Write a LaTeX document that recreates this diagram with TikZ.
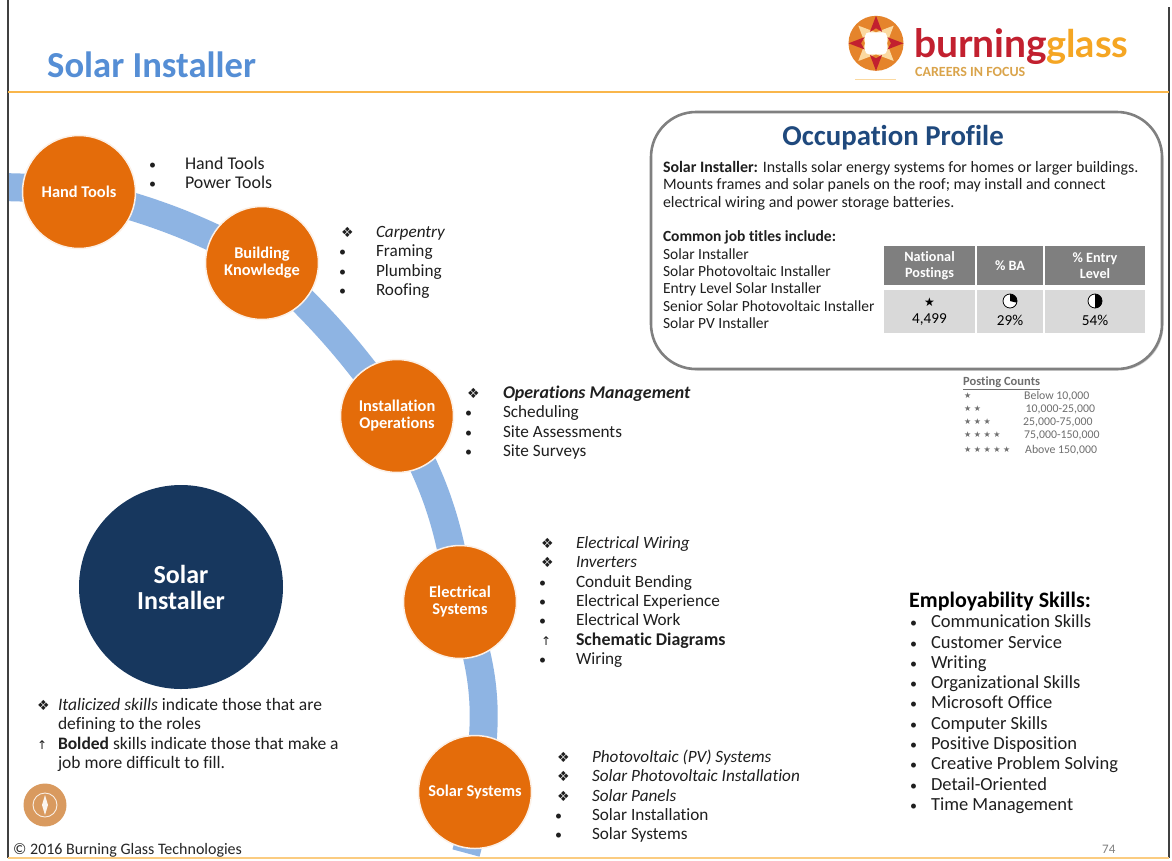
\documentclass[tikz,border=0pt]{standalone}
\usepackage{fontspec}
\setmainfont{Carlito}[Ligatures=NoCommon]
\newfontfamily\symf{DejaVu Sans}
\newfontfamily\logof{Lato}
\usepackage{array}
\definecolor{bandblue}{HTML}{8EB4E3}
\definecolor{burnt}{HTML}{E46C0A}
\definecolor{navy}{HTML}{17375E}
\definecolor{titleblue}{HTML}{558ED5}
\definecolor{profileblue}{HTML}{1F497D}
\definecolor{rule}{HTML}{F9B64B}
\definecolor{headgray}{HTML}{7F7F7F}
\definecolor{cellgray}{HTML}{D9D9D9}
\definecolor{logored}{HTML}{C2202F}
\definecolor{logoorange}{HTML}{F5A623}
\definecolor{logoburnt}{HTML}{E5842B}
\definecolor{logocream}{HTML}{FBD9A0}
\definecolor{compass}{HTML}{D99A5F}
\definecolor{softgray}{HTML}{6E6E6E}
\newcommand{\dia}{{\symf\fontsize{14}{12}\selectfont ❖}}
\newcommand{\bul}{\hspace*{-2pt}{\fontsize{14}{12}\selectfont •}}
\newcommand{\upa}{{\symf\fontsize{12}{11}\selectfont ↑}}
\newcommand{\lst}[2]{\fontsize{17.2}{19.35}\selectfont\begin{tabular}{@{}p{#1}@{}l@{}}#2\end{tabular}}
\newcommand{\lstb}[2]{\fontsize{17.9}{19.35}\selectfont\begin{tabular}{@{}p{#1}@{}l@{}}#2\end{tabular}}
\newcommand{\lstc}[2]{\fontsize{17.5}{19.35}\selectfont\begin{tabular}{@{}p{#1}@{}l@{}}#2\end{tabular}}
\newcommand{\lsta}[2]{\fontsize{18.5}{20.3}\selectfont\begin{tabular}{@{}p{#1}@{}l@{}}#2\end{tabular}}
\newcommand{\bigbold}[1]{{\fontsize{17.9}{19.35}\selectfont\bfseries #1}}
\tikzset{
  x=1pt,y=-1pt,
  band/.style={draw=bandblue,line width=28pt},
  skillcircle/.style={circle,fill=burnt,draw=white!90!burnt,line width=1.5pt,minimum size=113pt,inner sep=0pt,text=white,align=center,font=\fontsize{16.4}{17}\selectfont\bfseries},
  txt/.style={anchor=north west,inner sep=0pt,outer sep=0pt,align=left,text=black!88},
  headcell/.style={fill=headgray,text=white,inner sep=0pt,align=center,font=\fontsize{14.2}{16.5}\selectfont\bfseries},
  bodycell/.style={fill=cellgray,inner sep=0pt},
  cnt/.style={anchor=west,inner sep=0pt,text=softgray,font=\fontsize{11.8}{12}\selectfont},
  stars/.style={anchor=west,inner sep=0pt,text=softgray,font=\symf\fontsize{8}{9}\selectfont},
}
\begin{document}
\begin{tikzpicture}
\useasboundingbox (0,0) rectangle (1172,860);
\fill[white] (0,0) rectangle (1172,860);
\coordinate (cHand) at (79,192);
\coordinate (cBuild) at (262,262);
\coordinate (cInst) at (397,415);
\coordinate (cElec) at (460,601);
\coordinate (cSolar) at (475,792);
\coordinate (bandin) at (-10,187);
\coordinate (bandout) at (466,853);
\begin{scope}
\clip (8,0) rectangle (1169,860);
\draw[band] (bandin) to[bend left=3] (cHand);
\draw[band] (cHand) to[bend left=7] (cBuild);
\draw[band] (cBuild) to[bend left=6] (cInst);
\draw[band] (cInst) to[bend left=11] (cElec);
\draw[band] (cElec) to[bend left=16] (cSolar);
\draw[band] (cSolar) to[bend left=7] (bandout);
\end{scope}
% frame
\coordinate (fl0) at (8,0); \coordinate (fl1) at (8,858);
\coordinate (fr0) at (1169,7); \coordinate (fr1) at (1169,858);
\draw[black!75,line width=1.3pt] (fl0) -- (fl1);
\draw[black!75,line width=1.3pt] (fr0) -- (fr1);
\coordinate (rl) at (8,92); \coordinate (rr) at (1169,92);
\draw[rule,line width=2pt] (rl) -- (rr);
\coordinate (bl) at (8,858); \coordinate (br) at (1169,858);
\draw[rule!70,line width=1.5pt] (bl) -- (br);
% title
\node[anchor=west,inner sep=0pt,text=titleblue,font=\fontsize{36.6}{38}\selectfont\bfseries] (title) at (47,65) {Solar Installer};
% logo
\begin{scope}[shift={(876,43.3)}]
\fill[logoburnt] (0,0) circle (27.5);
\foreach \a in {45,135,225,315}{
  \fill[logocream] (\a:25) -- (\a-45:11) -- (\a:9) -- (\a+45:11) -- cycle;
}
\foreach \a in {0,90,180,270}{
  \fill[logored] (\a:27.5) -- (\a-28:13) -- (\a:15) -- (\a+28:13) -- cycle;
}
\fill[white,rounded corners=4pt] (-11,-11) rectangle (11,11);
\end{scope}
\node[anchor=base west,inner sep=0pt,text=logored,font=\logof\fontsize{39}{44}\selectfont\bfseries] (burning) at (914,57.5) {burning};
\node[anchor=base west,inner sep=0pt,text=logoorange,font=\logof\fontsize{38}{44}\selectfont\bfseries] (glass) at (1046,57.5) {glass};
\node[anchor=base west,inner sep=0pt,text=logoorange!85!black!80!white,font=\fontsize{14}{14}\selectfont\bfseries] (careers) at (915,76) {CAREERS IN FOCUS};
\coordinate (ul0) at (855,79); \coordinate (ul1) at (896,79);
\draw[logocream,line width=1pt] (ul0) -- (ul1);
% skill circles
\node[skillcircle] (hand) at (cHand) {\raisebox{-1pt}{Hand Tools}};
\node[skillcircle] (build) at (262,263) {Building\\Knowledge};
\node[skillcircle] (inst) at (397,416) {Installation\\Operations};
\node[skillcircle] (elec) at (460,602) {Electrical\\Systems};
\node[skillcircle] (solar) at (cSolar) {\raisebox{-1pt}{Solar Systems}};
\node[circle,fill=navy,minimum size=204pt,inner sep=0pt,text=white,align=center,font=\fontsize{26}{26}\selectfont\bfseries] (big) at (181,587) {Solar\\Installer};
% lists
\node[txt] (l1) at (151,155.5) {\lstb{34pt}{\bul & Hand Tools\\ \bul & Power Tools}};
\node[txt] (l2) at (341,224) {\lst{35pt}{\dia & \textit{Carpentry}\\ \bul & Framing\\ \bul & Plumbing\\ \bul & Roofing}};
\node[txt] (l3) at (467,385) {\lst{36pt}{\dia & \bigbold{\textit{Operations Management}}\\ \bul & Scheduling\\ \bul & Site Assessments\\ \bul & Site Surveys}};
\node[txt] (l4) at (541,535) {\lst{35pt}{\dia & \textit{Electrical Wiring}\\ \dia & \textit{Inverters}\\ \bul & Conduit Bending\\ \bul & Electrical Experience\\ \bul & Electrical Work\\ \upa & \bigbold{Schematic Diagrams}\\ \bul & Wiring}};
\node[txt] (l5) at (557,749) {\lst{35pt}{\dia & \textit{Photovoltaic (PV) Systems}\\ \dia & \textit{Solar Photovoltaic Installation}\\ \dia & \textit{Solar Panels}\\ \bul & Solar Installation\\ \bul & Solar Systems}};
% note
\node[txt] (note) at (37,697) {\lstc{21pt}{\dia & \textit{Italicized skills} indicate those that are\\ & defining to the roles\\ \upa & \textbf{Bolded} skills indicate those that make a\\ & job more difficult to fill.}};
% compass
\node[circle,fill=compass,minimum size=43pt,inner sep=0pt] (comp) at (45,805) {};
\draw[white!85!compass,line width=.9pt] (comp.center) circle (12);
\fill[white!90!compass] (45,795) -- (48,805) -- (45,815) -- (42,805) -- cycle;
% footer
\node[anchor=west,inner sep=0pt,text=black!85,font=\fontsize{16}{16}\selectfont] (copy) at (13,850) {© 2016 Burning Glass Technologies};
\node[anchor=west,inner sep=0pt,text=black!50,font=\fontsize{13}{14}\selectfont] (page) at (1102,849) {74};
% profile
\fill[black!18,rounded corners=45pt] (652.5,113.5) rectangle (1163.5,370.5);
\draw[fill=white,draw=black!50,line width=2.6pt,rounded corners=45pt] (651,112) rectangle (1162,369);
\node[inner sep=0pt,text=profileblue,font=\fontsize{28.8}{29}\selectfont\bfseries] (ptitle) at (893,137.5) {Occupation Profile};
\node[txt,font=\fontsize{15.9}{17.5}\selectfont] (pdesc) at (663,161) {\textbf{Solar Installer:} Installs solar energy systems for homes or larger buildings.\\Mounts frames and solar panels on the roof; may install and connect\\electrical wiring and power storage batteries.};
\node[txt,font=\fontsize{15.5}{17.3}\selectfont] (ptitles) at (663,231) {\textbf{Common job titles include:}\\Solar Installer\\Solar Photovoltaic Installer\\Entry Level Solar Installer\\Senior Solar Photovoltaic Installer\\Solar PV Installer};
% table
\node[headcell,minimum width=91pt,minimum height=39pt] (h1) at (929.5,265.5) {National\\Postings};
\node[headcell,minimum width=66pt,minimum height=39pt] (h2) at (1010,265.5) {\% BA};
\node[headcell,minimum width=100pt,minimum height=39pt] (h3) at (1095,265.5) {\% Entry\\Level};
\node[bodycell,minimum width=91pt,minimum height=43pt] (b1) at (929.5,311.5) {};
\node[bodycell,minimum width=66pt,minimum height=43pt] (b2) at (1010,311.5) {};
\node[bodycell,minimum width=100pt,minimum height=43pt] (b3) at (1095,311.5) {};
\node[inner sep=0pt,font=\symf\fontsize{12}{12}\selectfont] (s1) at (929.5,302) {★};
\node[inner sep=0pt,font=\fontsize{15.2}{16}\selectfont] (v1) at (929.5,320) {4,499};
\node[inner sep=0pt,font=\fontsize{15.2}{16}\selectfont] (v2) at (1010,320) {29\%};
\node[inner sep=0pt,font=\fontsize{15.2}{16}\selectfont] (v3) at (1095,320) {54\%};
\draw[black,fill=white,line width=.8pt] (1010,301) circle (7);
\fill[black] (1010,301) -- (1010,294) arc[start angle=-90,end angle=14,radius=7] -- cycle;
\draw[black,fill=white,line width=.8pt] (1095,301) circle (7);
\fill[black] (1095,294) arc[start angle=-90,end angle=90,radius=7] -- cycle;
% posting counts
\node[anchor=west,inner sep=0pt,text=softgray,font=\fontsize{12.5}{12}\selectfont\bfseries] (pc) at (963,383) {\underline{Posting Counts}};
\node[stars] (s-a) at (964,396) {★};
\node[stars] (s-b) at (964,409) {★ ★};
\node[stars] (s-c) at (964,422) {★ ★ ★};
\node[stars] (s-d) at (964,435) {★ ★ ★ ★};
\node[stars] (s-e) at (964,450) {★ ★ ★ ★ ★};
\node[cnt] (c-a) at (1024,396.5) {Below 10,000};
\node[cnt] (c-b) at (1025.5,409.5) {10,000-25,000};
\node[cnt] (c-c) at (1023,422.5) {25,000-75,000};
\node[cnt] (c-d) at (1024,435.5) {75,000-150,000};
\node[cnt] (c-e) at (1025,450.5) {Above 150,000};
% employability
\node[anchor=west,inner sep=0pt,font=\fontsize{22}{22}\selectfont\bfseries] (eh) at (909,601) {Employability Skills:};
\node[txt] (emp) at (912,613.5) {\lsta{19pt}{\bul & Communication Skills\\ \bul & Customer Service\\ \bul & Writing\\ \bul & Organizational Skills\\ \bul & Microsoft Office\\ \bul & Computer Skills\\ \bul & Positive Disposition\\ \bul & Creative Problem Solving\\ \bul & Detail-Oriented\\ \bul & Time Management}};
\end{tikzpicture}
\end{document}
